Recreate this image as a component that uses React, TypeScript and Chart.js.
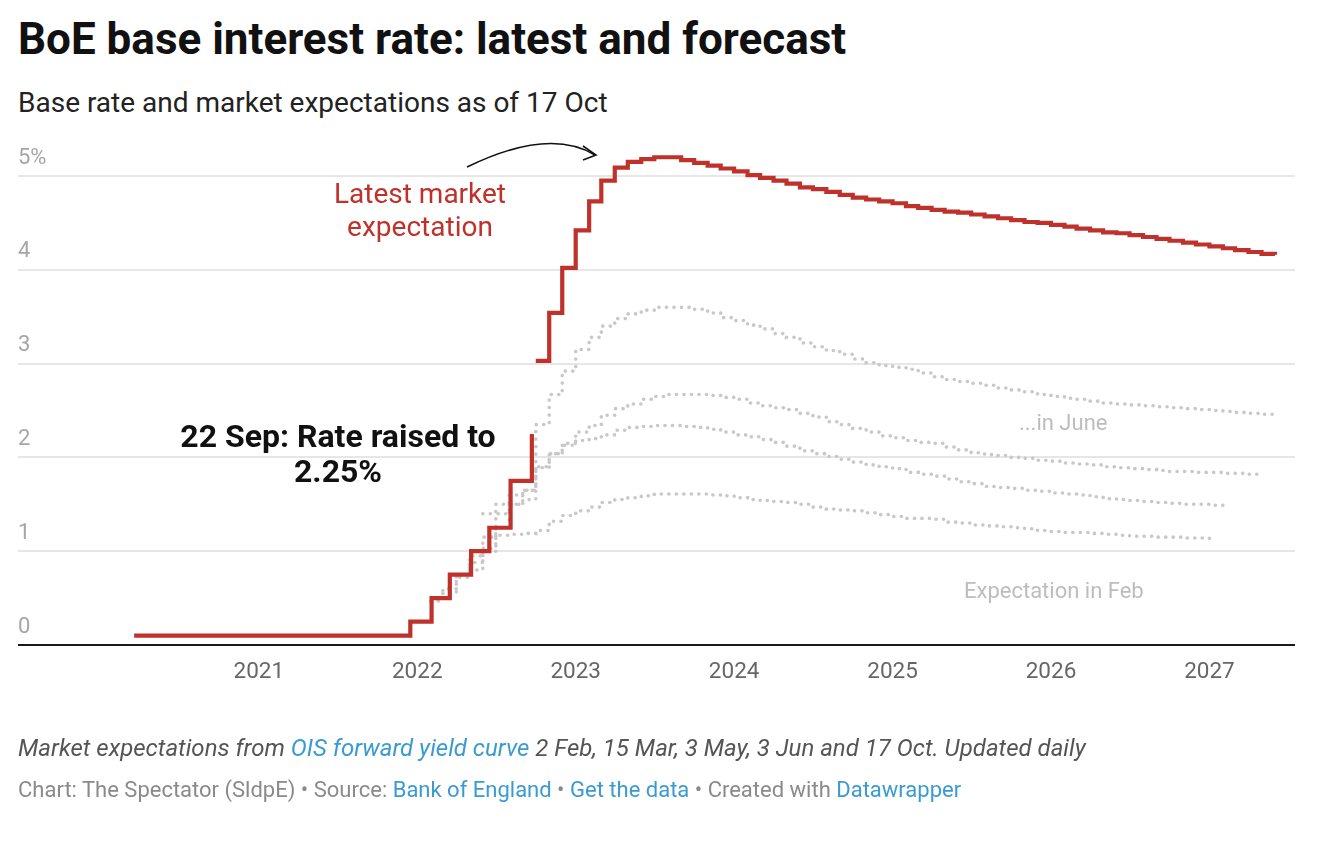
import React, { useEffect, useRef } from "react";
import { Chart, registerables } from "chart.js";

Chart.register(...registerables);

// ---- Data ----
const yearTicks = [2021, 2022, 2023, 2024, 2025, 2026, 2027];
const rateTicks = [0, 1, 2, 3, 4, 5];

const baseRateDates = [
  "2020-03-19", "2021-12-16", "2022-02-03", "2022-03-17",
  "2022-05-05", "2022-06-16", "2022-08-04", "2022-09-22",
];
const baseRateValues = [0.1, 0.25, 0.5, 0.75, 1.0, 1.25, 1.75, 2.25];

// Latest market expectation (17 Oct), monthly from Oct 2022
const latestStart = "2022-10";
const latestValues = [
  3.03, 3.54, 4.02,
  4.42, 4.73, 4.95, 5.09, 5.15, 5.18, 5.2, 5.2, 5.17, 5.14, 5.11, 5.08,
  5.05, 5.01, 4.98, 4.95, 4.92, 4.88, 4.86, 4.83, 4.8, 4.77, 4.75, 4.73,
  4.71, 4.68, 4.66, 4.64, 4.62, 4.61, 4.59, 4.57, 4.55, 4.53, 4.51, 4.5,
  4.48, 4.46, 4.44, 4.42, 4.4, 4.39, 4.37, 4.35, 4.33, 4.31, 4.29, 4.27,
  4.25, 4.23, 4.21, 4.19, 4.17, 4.16,
];

// Earlier expectations, monthly
const febStart = "2022-02";
const febValues = [
  0.47, 0.6, 0.72, 0.88, 1.03, 1.17, 1.18, 1.19, 1.22, 1.32, 1.38,
  1.43, 1.47, 1.52, 1.55, 1.57, 1.59, 1.61, 1.61, 1.61, 1.61, 1.6, 1.59,
  1.57, 1.55, 1.54, 1.53, 1.52, 1.5, 1.47, 1.45, 1.44, 1.43, 1.41, 1.39,
  1.37, 1.35, 1.35, 1.34, 1.31, 1.3, 1.28, 1.27, 1.26, 1.25, 1.24, 1.22,
  1.21, 1.2, 1.2, 1.19, 1.18, 1.17, 1.16, 1.16, 1.15, 1.15, 1.14, 1.14,
  1.13,
];

const marStart = "2022-03";
const marValues = [
  0.55, 0.75, 0.95, 1.15, 1.4, 1.5, 1.55, 1.89, 2.04, 2.13,
  2.18, 2.2, 2.24, 2.29, 2.32, 2.33, 2.34, 2.34, 2.33, 2.32, 2.3, 2.27,
  2.24, 2.22, 2.19, 2.16, 2.12, 2.07, 2.04, 2.01, 1.98, 1.95, 1.92, 1.9,
  1.88, 1.84, 1.82, 1.8, 1.77, 1.74, 1.72, 1.69, 1.68, 1.67, 1.65, 1.64,
  1.62, 1.61, 1.6, 1.58, 1.56, 1.55, 1.54, 1.53, 1.52, 1.51, 1.5, 1.5,
  1.49, 1.48,
];

const mayStart = "2022-05";
const mayValues = [
  0.8, 1.0, 1.25, 1.5, 1.65, 1.9, 2.04, 2.15,
  2.27, 2.34, 2.45, 2.52, 2.57, 2.62, 2.65, 2.67, 2.67, 2.67, 2.66, 2.64,
  2.62, 2.58, 2.55, 2.53, 2.51, 2.47, 2.43, 2.38, 2.35, 2.31, 2.27, 2.23,
  2.21, 2.18, 2.16, 2.15, 2.11, 2.08, 2.05, 2.03, 2.02, 2.0, 1.99, 1.97,
  1.96, 1.94, 1.93, 1.92, 1.9, 1.89, 1.88, 1.87, 1.86, 1.85, 1.85, 1.84,
  1.84, 1.83, 1.83, 1.82, 1.82,
];

const junStart = "2022-06";
const junValues = [
  1.4, 1.5, 1.6, 1.65, 2.35, 2.67, 2.92,
  3.15, 3.28, 3.4, 3.48, 3.53, 3.57, 3.6, 3.6, 3.6, 3.58, 3.54, 3.49,
  3.46, 3.41, 3.37, 3.32, 3.28, 3.22, 3.18, 3.14, 3.1, 3.05, 3.01, 2.98,
  2.96, 2.94, 2.9, 2.86, 2.83, 2.81, 2.79, 2.77, 2.74, 2.72, 2.7, 2.67,
  2.65, 2.63, 2.62, 2.6, 2.58, 2.57, 2.56, 2.55, 2.54, 2.53, 2.52, 2.51,
  2.5, 2.49, 2.48, 2.47, 2.46, 2.45,
];

const X_MIN = 2019.48;
const X_MAX = 2027.54;
const Y_MAX = 5.35;

const RED = "#bf312b";
const GREY = "#c8c8c8";
const BLUE = "#3a9bd2";

// ---- helpers ----
function dateToYear(y: number, m: number, d: number): number {
  const start = Date.UTC(y, 0, 1);
  const end = Date.UTC(y + 1, 0, 1);
  return y + (Date.UTC(y, m - 1, d) - start) / (end - start);
}
function isoToYear(s: string): number {
  const [y, m, d] = s.split("-").map(Number);
  return dateToYear(y, m, d || 1);
}
function monthly(start: string, values: number[]) {
  const [y0, m0] = start.split("-").map(Number);
  return values.map((v, i) => {
    const idx = m0 - 1 + i;
    const y = y0 + Math.floor(idx / 12);
    const m = (idx % 12) + 1;
    return { x: dateToYear(y, m, 1), y: v };
  });
}

function greyDataset(start: string, values: number[]) {
  return {
    data: monthly(start, values),
    borderColor: GREY,
    borderWidth: 3.6,
    borderDash: [0.1, 7.4],
    borderCapStyle: "round" as const,
    stepped: "before" as const,
    pointRadius: 0,
    fill: false,
    order: 2,
  };
}

export default function App() {
  const canvasRef = useRef<HTMLCanvasElement>(null);

  useEffect(() => {
    document.body.style.margin = "0";
    const canvas = canvasRef.current;
    if (!canvas) return;
    const chart = new Chart(canvas, {
      type: "line",
      data: {
        datasets: [
          {
            data: baseRateDates.map((d, i) => ({ x: isoToYear(d), y: baseRateValues[i] })),
            borderColor: RED,
            borderWidth: 4.2,
            stepped: "before",
            pointRadius: 0,
            fill: false,
            borderCapStyle: "butt",
            borderJoinStyle: "miter",
            order: 0,
          },
          {
            data: monthly(latestStart, latestValues),
            borderColor: RED,
            borderWidth: 4.2,
            stepped: "before",
            pointRadius: 0,
            fill: false,
            borderCapStyle: "butt",
            borderJoinStyle: "miter",
            order: 0,
          },
          greyDataset(febStart, febValues),
          greyDataset(marStart, marValues),
          greyDataset(mayStart, mayValues),
          greyDataset(junStart, junValues),
        ] as any,
      },
      options: {
        animation: false,
        responsive: false,
        parsing: false as any,
        layout: { padding: { left: 18, right: 41, top: 8, bottom: 0 } },
        plugins: {
          legend: { display: false },
          tooltip: { enabled: false },
        },
        scales: {
          x: {
            type: "linear",
            min: X_MIN,
            max: X_MAX,
            grid: { display: false, drawTicks: false },
            border: { display: false },
            afterBuildTicks: (scale: any) => {
              scale.ticks = yearTicks.map((v) => ({ value: v }));
            },
            afterFit: (scale: any) => {
              scale.height = 50;
            },
            ticks: {
              autoSkip: false,
              maxRotation: 0,
              padding: 14,
              color: "#666666",
              font: { family: "Roboto", size: 22.5 },
              callback: (v: any) => String(v),
            },
          },
          y: {
            type: "linear",
            min: 0,
            max: Y_MAX,
            grid: {
              drawTicks: false,
              color: (c: any) => (c.tick && c.tick.value === 0 ? "#1a1a1a" : "#e6e6e6"),
              lineWidth: 2,
            },
            border: { display: false },
            afterBuildTicks: (scale: any) => {
              scale.ticks = rateTicks.map((v) => ({ value: v }));
            },
            afterFit: (scale: any) => {
              scale.width = 0;
            },
            ticks: {
              mirror: true,
              padding: 0,
              labelOffset: -18,
              color: "#a6a6a6",
              font: { family: "Roboto", size: 22 },
              callback: (v: any) => (v === 5 ? "5%" : String(v)),
            },
          },
        },
      },
    });
    return () => chart.destroy();
  }, []);

  const abs = (left: number, top: number, extra: React.CSSProperties = {}): React.CSSProperties => ({
    position: "absolute",
    left,
    top,
    whiteSpace: "nowrap",
    lineHeight: 1,
    ...extra,
  });

  return (
    <div
      style={{
        position: "relative",
        width: 1336,
        height: 856,
        overflow: "hidden",
        background: "#ffffff",
        fontFamily: "Roboto, 'Noto Sans', sans-serif",
      }}
    >
      <div style={abs(18, 17, { fontSize: 44, fontWeight: 700, color: "#111111" })}>
        BoE base interest rate: latest and forecast
      </div>
      <div style={abs(18, 89, { fontSize: 28, color: "#222222" })}>
        Base rate and market expectations as of 17 Oct
      </div>

      <div style={{ position: "absolute", left: 0, top: 130, width: 1336, height: 565 }}>
        <canvas ref={canvasRef} width={1336} height={565} />
      </div>

      {/* annotations */}
      <div
        style={{
          position: "absolute",
          left: 420 - 150,
          top: 177,
          width: 300,
          textAlign: "center",
          fontSize: 28,
          lineHeight: "33px",
          color: RED,
        }}
      >
        Latest market
        <br />
        expectation
      </div>
      <div
        style={{
          position: "absolute",
          left: 338 - 200,
          top: 419,
          width: 400,
          textAlign: "center",
          fontSize: 32,
          fontWeight: 700,
          lineHeight: "35px",
          color: "#111111",
        }}
      >
        22 Sep: Rate raised to
        <br />
        2.25%
      </div>
      <div style={abs(1019, 412, { fontSize: 22, color: "#bdbdbd" })}>...in June</div>
      <div style={abs(964, 580, { fontSize: 22, color: "#bdbdbd" })}>Expectation in Feb</div>

      <svg
        width={1336}
        height={856}
        style={{ position: "absolute", left: 0, top: 0, pointerEvents: "none" }}
      >
        <path d="M467,167 Q549,127 595,155" fill="none" stroke="#111" strokeWidth={1.6} />
        <path d="M583,146 L596,155 L583,160" fill="none" stroke="#111" strokeWidth={1.6} />
      </svg>

      {/* footer */}
      <div style={abs(18, 736, { fontSize: 24, fontStyle: "italic", color: "#555555" })}>
        Market expectations from <span style={{ color: BLUE }}>OIS forward yield curve</span> 2 Feb,
        15 Mar, 3 May, 3 Jun and 17 Oct. Updated daily
      </div>
      <div style={abs(18, 779, { fontSize: 22, color: "#8a8a8a" })}>
        Chart: The Spectator (SldpE) • Source: <span style={{ color: BLUE }}>Bank of England</span> •{" "}
        <span style={{ color: BLUE }}>Get the data</span> • Created with{" "}
        <span style={{ color: BLUE }}>Datawrapper</span>
      </div>
    </div>
  );
}
